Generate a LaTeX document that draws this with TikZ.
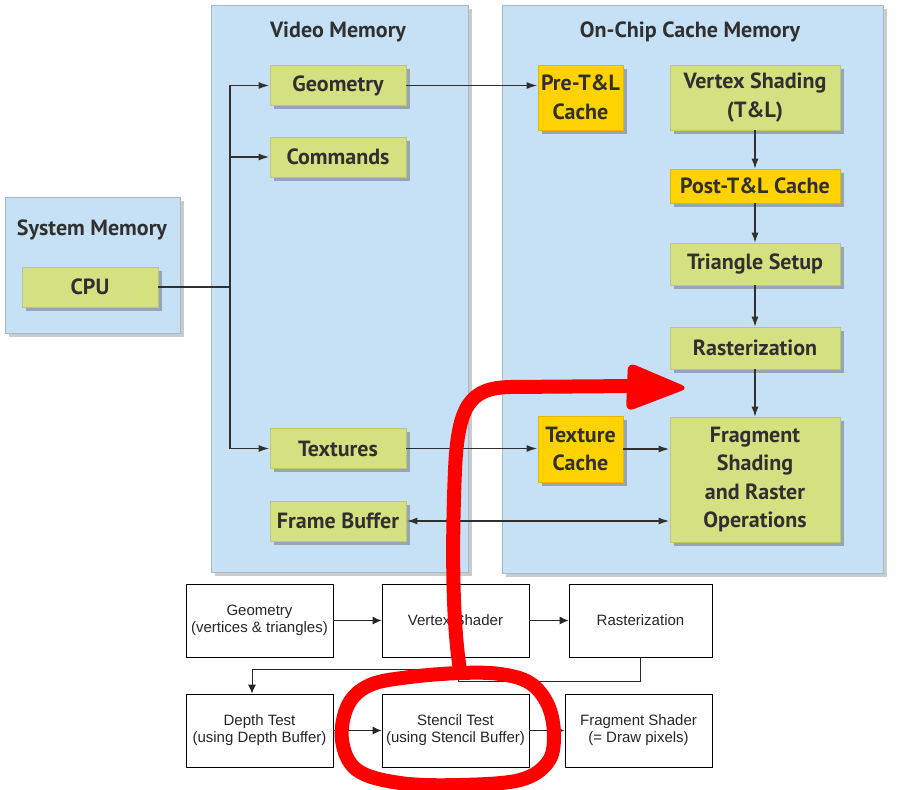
\documentclass[tikz,border=0pt]{standalone}
\usepackage{fontspec}
\setmainfont{Liberation Sans}
\newfontfamily\topfont{PT Sans}
\usetikzlibrary{arrows.meta,shadows,calc}
\definecolor{panelblue}{RGB}{198,225,245}
\definecolor{panelline}{RGB}{165,185,200}
\definecolor{boxgreen}{RGB}{213,224,128}
\definecolor{greenline}{RGB}{188,200,105}
\definecolor{boxyellow}{RGB}{255,210,0}
\definecolor{yellowline}{RGB}{228,182,0}
\definecolor{ink}{RGB}{48,48,48}
\definecolor{redmark}{RGB}{255,0,0}
\tikzset{
  panel/.style={rectangle, fill=panelblue, draw=panelline, line width=0.8pt, inner sep=0pt,
    drop shadow={shadow xshift=4pt, shadow yshift=-4pt, fill=black!45, opacity=0.45}},
  ptitle/.style={font=\topfont\bfseries\fontsize{22}{26}\selectfont, text=ink, anchor=base, inner sep=0pt},
  gbox/.style={rectangle, fill=boxgreen, draw=greenline, line width=0.8pt, inner sep=0pt,
    font=\topfont\bfseries\fontsize{22}{28.5}\selectfont, text=ink, align=center,
    drop shadow={shadow xshift=3.5pt, shadow yshift=-3.5pt, fill=black!70, opacity=0.4}},
  ybox/.style={gbox, fill=boxyellow, draw=yellowline},
  toparrow/.style={draw=ink, line width=1.7pt, -{Latex[length=11pt,width=7pt]}},
  toplink/.style={draw=ink, line width=1.7pt},
  thinarrow/.style={draw=ink, line width=1.1pt, -{Latex[length=10pt,width=7pt]}},
  wbox/.style={rectangle, draw=black, line width=0.9pt, fill=white, inner sep=0pt, align=center,
    font=\fontsize{15}{17}\selectfont, text=black!85},
  barrow/.style={draw=black!85, line width=0.9pt, -{Latex[length=9pt,width=8pt]}},
  redstroke/.style={draw=redmark, line width=14pt, line cap=round, line join=round}
}
\begin{document}
\begin{tikzpicture}[x=1pt,y=-1pt]
\useasboundingbox (0,0) rectangle (900,790);
\fill[white] (0,0) rectangle (900,790);

% panels
\node[panel, minimum width=175, minimum height=136] (sysmem) at (92.5,265) {};
\node[panel, minimum width=257, minimum height=567] (vidmem) at (339.5,288.5) {};
\node[panel, minimum width=381, minimum height=568] (onchip) at (692.5,289) {};
\node[ptitle] (systitle) at (92,235) {System Memory};
\node[ptitle] (vidtitle) at (338,37) {Video Memory};
\node[ptitle] (chiptitle) at (690,37) {On-Chip Cache Memory};

% boxes
\node[gbox, minimum width=136, minimum height=40] (cpu) at (90,287) {CPU};
\node[gbox, minimum width=136, minimum height=40] (geom) at (338,85.5) {Geometry};
\node[gbox, minimum width=136, minimum height=40] (cmds) at (338,157) {Commands};
\node[gbox, minimum width=136, minimum height=40] (tex) at (338,448.5) {Textures};
\node[gbox, minimum width=136, minimum height=40] (fb) at (338,521) {Frame Buffer};
\node[ybox, minimum width=85, minimum height=65] (pretl) at (580.5,97.5) {Pre-T\&L\\Cache};
\node[gbox, minimum width=170, minimum height=65] (vs) at (755,97.5) {Vertex Shading\\(T\&L)};
\node[ybox, minimum width=170, minimum height=34] (posttl) at (755,186) {Post-T\&L Cache};
\node[gbox, minimum width=170, minimum height=42] (tri) at (755,264) {Triangle Setup};
\node[gbox, minimum width=170, minimum height=42] (rast) at (755,348) {Rasterization};
\node[ybox, minimum width=85, minimum height=66] (texc) at (580.5,449) {Texture\\Cache};
\node[gbox, minimum width=170, minimum height=125] (frag) at (755,479.5) {Fragment\\Shading\\and Raster\\Operations};

% top connectors
\coordinate (bus) at (230,287);
\draw[toplink] (cpu.east) -- (bus);
\draw[toparrow] (bus) |- (geom.west);
\draw[toparrow] (bus) |- (cmds.west);
\draw[toparrow] (bus) |- (tex.west);
\draw[toparrow] (geom.east) -- (geom.east -| pretl.west);
\draw[toparrow] (tex.east) -- (tex.east -| texc.west);
\draw[toparrow] (texc.east) -- (texc.east -| frag.west);
\draw[toplink, {Latex[length=11pt,width=7pt]}-{Latex[length=11pt,width=7pt]}] (fb.east) -- (fb.east -| frag.west);
\draw[thinarrow] (vs.south) -- (posttl.north);
\draw[thinarrow] (posttl.south) -- (tri.north);
\draw[thinarrow] (tri.south) -- (rast.north);
\draw[thinarrow] (rast.south) -- (frag.north);

% bottom flow chart
\fill[white] (178,578) rectangle (717,790);
\node[wbox, minimum width=147, minimum height=73] (geo2) at (259.5,620.5) {Geometry\\(vertices \& triangles)};
\node[wbox, minimum width=147, minimum height=73] (vsh) at (455.5,620.5) {Vertex Shader};
\node[wbox, minimum width=143, minimum height=73] (rast2) at (640.5,620.5) {Rasterization};
\node[wbox, minimum width=147, minimum height=73] (depth) at (259.5,730.5) {Depth Test\\(using Depth Buffer)};
\node[wbox, minimum width=147, minimum height=73] (stencil) at (455.5,730.5) {Stencil Test\\(using Stencil Buffer)};
\node[wbox, minimum width=147, minimum height=73] (fs) at (638.5,730.5) {Fragment Shader\\(= Draw pixels)};
\draw[barrow] (geo2) -- (vsh);
\draw[barrow] (vsh) -- (rast2);
\coordinate (j1) at (458,681);
\coordinate (j2) at (458,669);
\coordinate (j3) at (252,669);
\draw[barrow] (rast2.south) |- (j1) -- (j2) -- (j3) -- (j3 |- depth.north);
\draw[barrow] (depth) -- (stencil);
\draw[barrow] (stencil) -- (fs);

% red annotation
\draw[redstroke] plot[smooth cycle, tension=0.6] coordinates {(460,673) (500,674) (530,683) (548,705) (554,735) (548,762) (520,780) (460,785) (400,783) (357,770) (342,740) (348,705) (370,685) (410,677)};
\draw[redstroke] (460,670) .. controls (452,620) and (452,540) .. (455,470) .. controls (458,405) and (470,388) .. (510,387) -- (634,386);
\fill[redmark, rounded corners=8pt] (628,362) -- (689,388) -- (626,412) -- cycle;
\end{tikzpicture}
\end{document}
